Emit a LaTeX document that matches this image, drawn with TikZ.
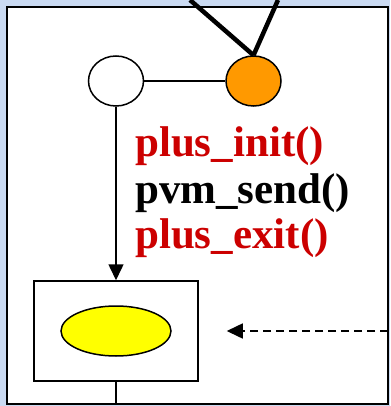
\documentclass[tikz,border=0pt]{standalone}
\usepackage{fontspec}
\setmainfont{Liberation Serif}
\usetikzlibrary{arrows.meta,positioning,shapes.geometric}
\definecolor{Sky}{HTML}{CADAF2}
\definecolor{Amber}{HTML}{FF9900}
\definecolor{Lemon}{HTML}{FFFF00}
\definecolor{Crimson}{HTML}{CC0000}

\begin{document}
\begin{tikzpicture}[x=1pt,y=-1pt,
    proc/.style={ellipse,draw,line width=1.5pt,minimum width=55pt,minimum height=50pt,inner sep=0pt},
    call/.style={anchor=base west,inner sep=0pt,font=\fontsize{43}{45}\selectfont\bfseries},
    arr/.style={-{Triangle[length=16pt,width=15pt]},line width=1.5pt},
    link/.style={line width=1.5pt}
  ]
    \useasboundingbox[fill=Sky] (0,0) rectangle (390,406);
    \draw[fill=white,line width=1.5pt] (7,7) rectangle (388,404);
    \node[proc,fill=white] (proc) at (116,81) {};
    \node[proc,fill=Amber,right=81pt of proc] (peer) {};
    \node[draw,line width=1.5pt,minimum width=164pt,minimum height=100pt] (box) at (116,331) {};
    \node[ellipse,draw,line width=1.5pt,fill=Lemon,minimum width=110pt,minimum height=50pt] (task) at (box.center) {};
    \node[call,text=Crimson] (init) at (135,157) {plus\_init()};
    \node[call] (send) at (135,203) {pvm\_send()};
    \node[call,text=Crimson] (exit) at (135,248) {plus\_exit()};
    \coordinate (up1) at (190,0);
    \coordinate (up2) at (278,0);
    \coordinate (src) at (388,331);
    \coordinate (down) at (116,404);
    \foreach \a in {up1,up2}
      \draw[line width=4.5pt](\a)--(peer.north);
    \draw[link](proc)--(peer);
    \draw[arr](proc)--(box);
    \draw[arr,dash pattern=on 8pt off 5pt,shorten >=28pt](src)--(box.east);
    \draw[link](box)--(down);
  \end{tikzpicture}
\end{document}
